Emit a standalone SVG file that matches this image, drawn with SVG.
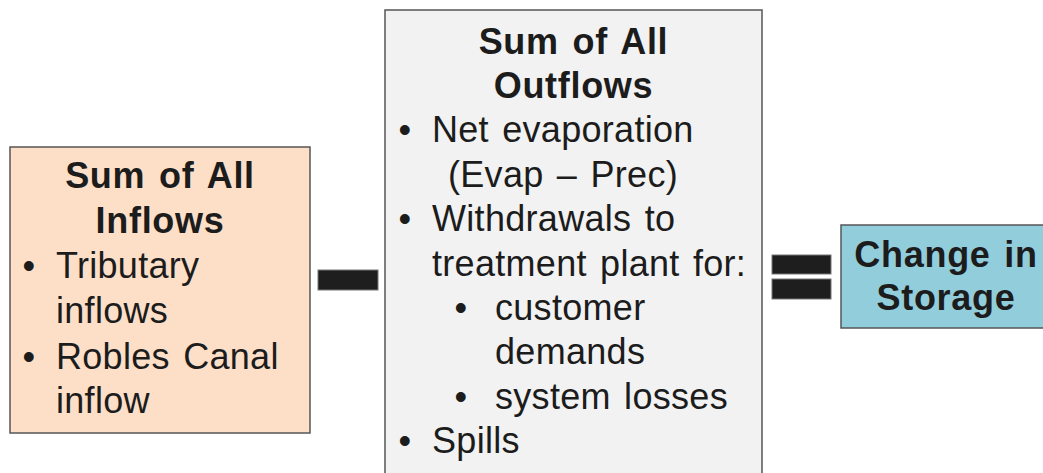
<svg xmlns="http://www.w3.org/2000/svg" width="1043" height="473" viewBox="0 0 1043 473">
<style>
.box{stroke:#555;stroke-width:1.5}
.t{font-family:"Liberation Sans",Arial,sans-serif;font-size:36px;fill:#1c1c1c;letter-spacing:0.3px;word-spacing:3px}
.h{font-weight:bold;text-anchor:middle;letter-spacing:0.7px}
.b{text-anchor:middle}
.op{fill:#1e1e1e;stroke:#777;stroke-width:1}
</style>
<rect width="1043" height="473" fill="#ffffff"/>
<g id="inflows">
<rect class="box" x="10" y="147" width="300" height="286" fill="#FDDFC8"/>
<text class="t h" x="160" y="188">Sum of All</text>
<text class="t h" x="160" y="233">Inflows</text>
<text class="t b" x="29" y="278">•</text>
<text class="t" x="56" y="278">Tributary</text>
<text class="t" x="56" y="323">inflows</text>
<text class="t b" x="29" y="369">•</text>
<text class="t" x="56" y="369">Robles Canal</text>
<text class="t" x="56" y="413">inflow</text>
</g>
<g id="minus">
<rect class="op" x="318" y="270" width="60" height="20"/>
</g>
<g id="outflows">
<rect class="box" x="385" y="10" width="377" height="475" fill="#F2F2F2"/>
<text class="t h" x="573.5" y="53.5">Sum of All</text>
<text class="t h" x="573.5" y="98">Outflows</text>
<text class="t b" x="405" y="142.3">•</text>
<text class="t" x="432" y="142.3">Net evaporation</text>
<text class="t" x="448" y="186.7">(Evap – Prec)</text>
<text class="t b" x="405" y="231">•</text>
<text class="t" x="432" y="231">Withdrawals to</text>
<text class="t" x="432" y="275.5">treatment plant for:</text>
<text class="t b" x="461" y="320">•</text>
<text class="t" x="495" y="320">customer</text>
<text class="t" x="495" y="364.3">demands</text>
<text class="t b" x="461" y="408.7">•</text>
<text class="t" x="495" y="408.7">system losses</text>
<text class="t b" x="405" y="453">•</text>
<text class="t" x="432" y="453">Spills</text>
</g>
<g id="equals">
<rect class="op" x="772" y="255" width="59" height="19"/>
<rect class="op" x="772" y="279" width="59" height="20"/>
</g>
<g id="storage">
<rect class="box" x="841" y="225" width="215" height="103" fill="#92CDDC" stroke="#444"/>
<text class="t h" x="946" y="267">Change in</text>
<text class="t h" x="946" y="310">Storage</text>
</g>
<g id="connectors"></g>
</svg>
